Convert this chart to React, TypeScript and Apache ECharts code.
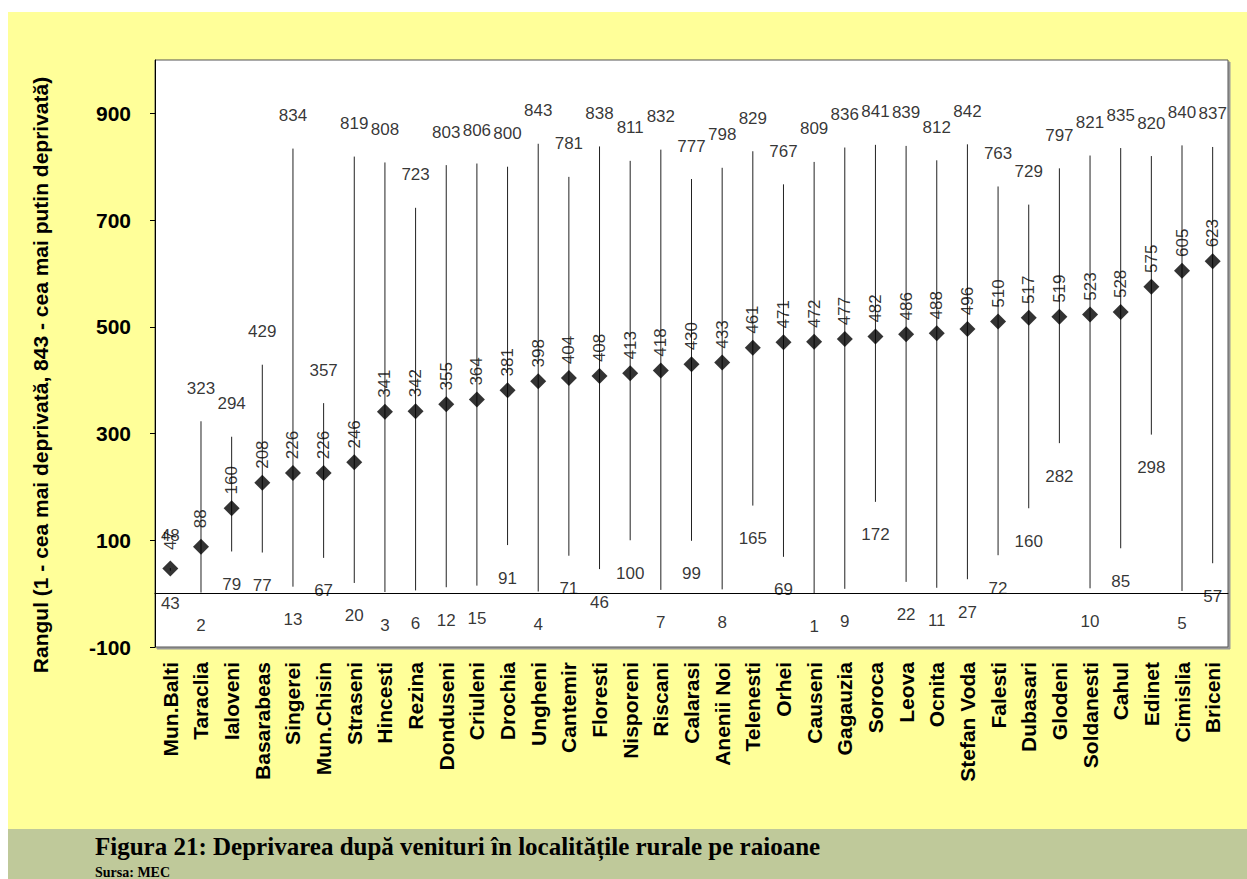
import React, { useEffect, useRef } from "react";
import * as echarts from "echarts";

const categories = [
  "Mun.Balti", "Taraclia", "Ialoveni", "Basarabeas", "Singerei", "Mun.Chisin", "Straseni",
  "Hincesti", "Rezina", "Donduseni", "Criuleni", "Drochia", "Ungheni", "Cantemir",
  "Floresti", "Nisporeni", "Riscani", "Calarasi", "Anenii Noi", "Telenesti", "Orhei",
  "Causeni", "Gagauzia", "Soroca", "Leova", "Ocnita", "Stefan Voda", "Falesti",
  "Dubasari", "Glodeni", "Soldanesti", "Cahul", "Edinet", "Cimislia", "Briceni",
];
const minVals = [43, 2, 79, 77, 13, 67, 20, 3, 6, 12, 15, 91, 4, 71, 46, 100, 7, 99, 8, 165, 69, 1, 9, 172, 22, 11, 27, 72, 160, 282, 10, 85, 298, 5, 57];
const midVals = [47, 88, 160, 208, 226, 226, 246, 341, 342, 355, 364, 381, 398, 404, 408, 413, 418, 430, 433, 461, 471, 472, 477, 482, 486, 488, 496, 510, 517, 519, 523, 528, 575, 605, 623];
const maxVals = [48, 323, 294, 429, 834, 357, 819, 808, 723, 803, 806, 800, 843, 781, 838, 811, 832, 777, 798, 829, 767, 809, 836, 841, 839, 812, 842, 763, 729, 797, 821, 835, 820, 840, 837];
const yTicks = [-100, 100, 300, 500, 700, 900];

const yTitle = "Rangul (1 - cea mai deprivată, 843 - cea mai putin deprivată)";
const caption = "Figura 21: Deprivarea după venituri în localitățile rurale pe raioane";
const source = "Sursa: MEC";

const SANS = "'Liberation Sans', Arial, sans-serif";
const SERIF = "'Liberation Serif', 'Times New Roman', serif";

export default function App() {
  const ref = useRef<HTMLDivElement>(null);
  useEffect(() => {
    document.body.style.margin = "0";
    if (!ref.current) return;
    const chart = echarts.init(ref.current, null, { renderer: "svg" });
    const rangeData = categories.map((_, i) => [i, minVals[i], maxVals[i]]);
    chart.setOption({
      animation: false,
      backgroundColor: "transparent",
      textStyle: { fontFamily: SANS },
      grid: {
        left: 155,
        right: 19,
        top: 60,
        bottom: 232,
        show: true,
        backgroundColor: "#ffffff",
        borderColor: "#555555",
        borderWidth: 1,
        shadowColor: "#999999",
        shadowOffsetX: 2,
        shadowOffsetY: 2,
        shadowBlur: 0,
      },
      xAxis: {
        type: "category",
        data: categories,
        axisLine: { show: true, lineStyle: { color: "#000", width: 1 } },
        axisTick: { show: false },
        axisLabel: {
          rotate: 90,
          interval: 0,
          margin: 15,
          fontSize: 21,
          fontWeight: "bold",
          color: "#000",
          fontFamily: SANS,
        },
        splitLine: { show: false },
      },
      yAxis: {
        type: "value",
        min: -100,
        max: 1000,
        interval: 200,
        axisLine: { show: true, lineStyle: { color: "#000", width: 1 } },
        axisTick: { show: true, length: 5, lineStyle: { color: "#000" }, customValues: yTicks },
        axisLabel: {
          customValues: yTicks,
          margin: 24,
          fontSize: 21,
          fontWeight: "bold",
          color: "#000",
          fontFamily: SANS,
        },
        splitLine: { show: false },
      },
      graphic: [
        {
          type: "text",
          x: 40,
          y: 375,
          rotation: Math.PI / 2,
          style: {
            text: yTitle,
            fontSize: 21,
            fontWeight: "bold",
            fontFamily: SANS,
            fill: "#000",
            textAlign: "center",
            textVerticalAlign: "middle",
          },
        },
        {
          type: "text",
          x: 95,
          y: 846,
          style: {
            text: caption,
            fontSize: 25,
            fontWeight: "bold",
            fontFamily: SERIF,
            fill: "#000",
            textAlign: "left",
            textVerticalAlign: "middle",
          },
        },
        {
          type: "text",
          x: 95,
          y: 872,
          style: {
            text: source,
            fontSize: 14,
            fontWeight: "bold",
            fontFamily: SERIF,
            fill: "#000",
            textAlign: "left",
            textVerticalAlign: "middle",
          },
        },
      ],
      series: [
        {
          type: "custom",
          data: rangeData,
          encode: { x: 0, y: [1, 2] },
          z: 1,
          renderItem: (params: any, api: any) => {
            const x = api.value(0);
            const lo = api.coord([x, api.value(1)]);
            const hi = api.coord([x, api.value(2)]);
            return {
              type: "line",
              shape: { x1: lo[0], y1: lo[1], x2: hi[0], y2: hi[1] },
              style: { stroke: "#222", lineWidth: 1 },
            };
          },
        },
        {
          type: "scatter",
          data: maxVals,
          symbolSize: 1,
          itemStyle: { color: "rgba(0,0,0,0)" },
          z: 3,
          label: {
            show: true,
            position: "inside",
            offset: [0, -33],
            fontSize: 17,
            color: "#000",
            fontFamily: SANS,
          },
        },
        {
          type: "scatter",
          data: minVals,
          symbolSize: 1,
          itemStyle: { color: "rgba(0,0,0,0)" },
          z: 3,
          label: {
            show: true,
            position: "inside",
            offset: [0, 33],
            fontSize: 17,
            color: "#000",
            fontFamily: SANS,
          },
        },
        {
          type: "scatter",
          data: midVals,
          symbol: "diamond",
          symbolSize: 16,
          itemStyle: { color: "#000" },
          z: 4,
          label: {
            show: true,
            position: "inside",
            offset: [28, 0],
            rotate: 90,
            align: "center",
            verticalAlign: "middle",
            fontSize: 17,
            color: "#000",
            fontFamily: SANS,
          },
        },
      ],
    });
    return () => chart.dispose();
  }, []);

  return (
    <div style={{ position: "relative", width: 1247, height: 879, background: "#ffffff", overflow: "hidden" }}>
      <div style={{ position: "absolute", left: 8, top: 12, width: 1239, height: 817, background: "#FFFF99" }} />
      <div style={{ position: "absolute", left: 8, top: 829, width: 1239, height: 50, background: "#BFC99A" }} />
      <div ref={ref} style={{ position: "absolute", left: 0, top: 0, width: 1247, height: 879 }} />
    </div>
  );
}
